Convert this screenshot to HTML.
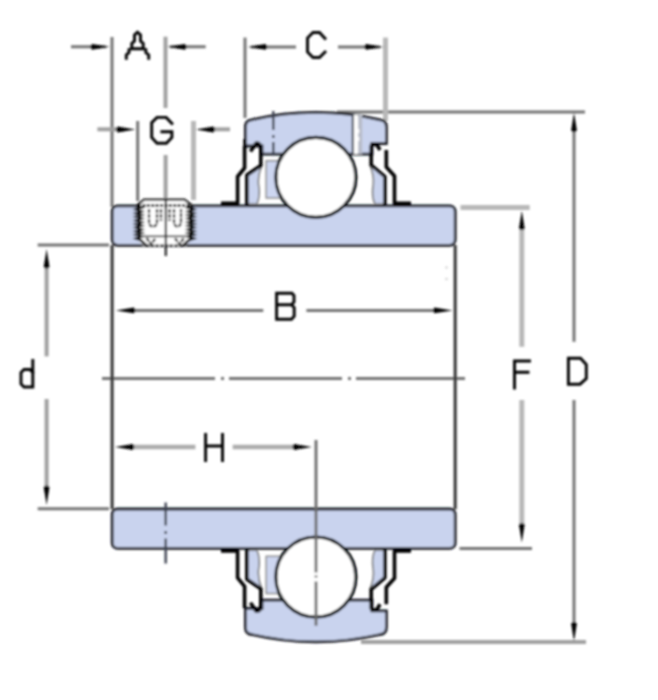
<!DOCTYPE html>
<html><head><meta charset="utf-8"><title>Bearing unit</title>
<style>
html,body{margin:0;padding:0;background:#fff;width:658px;height:700px;overflow:hidden;font-family:"Liberation Sans",sans-serif}
svg{display:block}
</style></head><body>
<svg width="658" height="700" viewBox="0 0 658 700">
<defs>
<filter id="soft" filterUnits="userSpaceOnUse" x="0" y="0" width="658" height="700"><feGaussianBlur stdDeviation="1"/></filter>
<path id="ah" d="M0,0 L-18,-2.9 Q-21,0 -18,2.9 Z"/>
<g id="half">
  <!-- cage (left only) -->
  <rect x="266.2" y="160.8" width="17" height="37.2" fill="#cdd6f0" stroke="#8a8a8a" stroke-width="1.5"/>
  <!-- outer ring -->
  <path d="M245.4,146 V127 Q245.4,120.2 251.5,119.8 A287,287 0 0 1 380.3,119.8 Q386.4,120.2 386.4,127 V143.5 H372 V154.1 H262 V146 Z" fill="#c9d3ee" stroke="#1c1f28" stroke-width="2.8"/>
  <!-- ball -->
  <circle cx="315.85" cy="177.3" r="40" fill="#fff" stroke="#05070c" stroke-width="3.2"/>
  <!-- seal lips -->
  <path d="M261.5,166 L247,176 V204 H257 Q260.5,195 258.5,185 Q257.5,176 261.5,166 Z" fill="#c9d3ee" stroke="#777" stroke-width="1.6"/>
  <path d="M370.3,166 L384.8,176 V204 H374.8 Q371.3,195 373.3,185 Q374.3,176 370.3,166 Z" fill="#c9d3ee" stroke="#777" stroke-width="1.6"/>
  <!-- flingers (black) -->
  <g fill="none" stroke="#000" stroke-width="3.6" stroke-linejoin="round">
    <path d="M221,203.4 H237.6 V176.5 L244.6,168 V146"/>
    <path d="M246.9,205 V175 L260.8,165.5 V149 Q260.8,142.5 256,143.2 L250.5,151.5"/>
    <path d="M411,203.4 H394.5 V176 L386.3,167 V150"/>
    <path d="M384.8,205 V176.5 L371.2,165 V146 Q372,143 377,145 L380,150"/>
  </g>
</g>
</defs>

<g filter="url(#soft)">
<!-- ===== dimension / construction lines ===== -->
<g fill="none" stroke="#737373" stroke-width="3">
  <line x1="71" y1="46.8" x2="106" y2="46.8"/>
  <line x1="170" y1="46.8" x2="205.7" y2="46.8"/>
  <line x1="112" y1="37" x2="112" y2="207"/>
  <line x1="245" y1="37.6" x2="245" y2="118"/>
  <line x1="251" y1="46.9" x2="296" y2="46.9"/>
  <line x1="338" y1="46.9" x2="380" y2="46.9"/>
  <line x1="137.7" y1="121" x2="137.7" y2="201"/>
  <line x1="37.7" y1="245" x2="109" y2="245"/>
  <line x1="37.7" y1="508.75" x2="109" y2="508.75"/>
  <line x1="128" y1="310.4" x2="263.3" y2="310.4"/>
  <line x1="306.4" y1="310.4" x2="440" y2="310.4"/>
  <line x1="337" y1="112" x2="585" y2="112"/>
  <line x1="574" y1="126" x2="574" y2="341.8"/>
  <line x1="574" y1="400" x2="574" y2="628"/>
  <line x1="459.5" y1="548.5" x2="532" y2="548.5"/>
</g>
<g fill="none" stroke="#a0a0a0" stroke-width="4">
  <line x1="165.5" y1="36.7" x2="165.5" y2="108"/>
  <line x1="97.4" y1="129.3" x2="124" y2="129.3"/>
  <line x1="207" y1="129.3" x2="230" y2="129.3"/>
  <line x1="46.6" y1="262" x2="46.6" y2="356.4"/>
  <line x1="46.6" y1="399" x2="46.6" y2="492"/>
  <line x1="361" y1="642" x2="586" y2="642"/>
  <line x1="165.6" y1="155" x2="165.6" y2="199"/>
</g>
<g fill="none" stroke="#b8b8b8" stroke-width="5">
  <line x1="385.5" y1="37.6" x2="385.5" y2="121"/>
  <line x1="193.5" y1="121" x2="193.5" y2="200"/>
  <line x1="460.5" y1="207.6" x2="529.7" y2="207.6"/>
  <line x1="521.8" y1="225" x2="521.8" y2="346.8"/>
  <line x1="521.8" y1="400" x2="521.8" y2="527"/>
</g>
<g fill="none" stroke="#acacac" stroke-width="4.6">
  <line x1="128" y1="447" x2="195.4" y2="447"/>
  <line x1="232.7" y1="447" x2="300" y2="447"/>
</g>
<line x1="102" y1="378.4" x2="465" y2="378.4" stroke="#737373" stroke-width="3" stroke-dasharray="113,6,3,5"/>

<!-- inner ring bars -->
<rect x="112.2" y="205.9" width="343" height="39.4" rx="5.5" fill="#c9d3ee" stroke="#1c1f28" stroke-width="2.8"/>
<rect x="112.2" y="509" width="343" height="39.4" rx="5.5" fill="#c9d3ee" stroke="#1c1f28" stroke-width="2.8"/>
<!-- inner ring faces -->
<line x1="112.1" y1="245" x2="112.1" y2="509.3" stroke="#333" stroke-width="3"/>
<line x1="455.2" y1="245" x2="455.2" y2="509.3" stroke="#333" stroke-width="3"/>

<!-- top half -->
<use href="#half"/>
<!-- bottom half mirrored -->
<use href="#half" transform="matrix(1,0,0,-1,0,754.3)"/>

<!-- top outer ring extra details -->
<line x1="244.9" y1="139" x2="244.9" y2="148" stroke="#000" stroke-width="3.2"/>
<line x1="273.3" y1="111" x2="273.3" y2="155.5" stroke="#3c4250" stroke-width="2.4" stroke-dasharray="19,5,3,4,30"/>
<rect x="353.6" y="114.6" width="4.6" height="39.4" fill="#fff"/>
<rect x="358.2" y="115" width="4" height="39" fill="#b8bcc8"/>
<rect x="357.2" y="129" width="2" height="4" fill="#fff"/>
<rect x="357.2" y="137" width="2" height="4" fill="#fff"/>
<line x1="352.8" y1="113.6" x2="352.8" y2="154" stroke="#4a4f5c" stroke-width="2.2"/>

<!-- set screw -->
<g id="screw">
  <path d="M137.5,205 L144,199.5 H184.5 L191.5,205 V240 L185,246 H144 L137.5,240 Z" fill="#fff"/>
  <path d="M137.5,205 L144,199.6 H184.5 L191.5,205" fill="none" stroke="#222" stroke-width="2.4"/>
  <line x1="138" y1="205.6" x2="191" y2="205.6" stroke="#000" stroke-width="2.6" stroke-dasharray="3,1.4"/>
  <path d="M136.3,206.0 L141.3,207.8 L136.3,209.6 L141.3,211.4 L136.3,213.2 L141.3,215.0 L136.3,216.8 L141.3,218.6 L136.3,220.4 L141.3,222.2 L136.3,224.0 L141.3,225.8 L136.3,227.6 L141.3,229.4 L136.3,231.2 L141.3,233.0 L136.3,234.8 L141.3,236.6 L136.3,238.4 L141.3,240.2" fill="none" stroke="#000" stroke-width="2.6"/>
  <path d="M193.5,206.0 L188.5,207.8 L193.5,209.6 L188.5,211.4 L193.5,213.2 L188.5,215.0 L193.5,216.8 L188.5,218.6 L193.5,220.4 L188.5,222.2 L193.5,224.0 L188.5,225.8 L193.5,227.6 L188.5,229.4 L193.5,231.2 L188.5,233.0 L193.5,234.8 L188.5,236.6 L193.5,238.4 L188.5,240.2" fill="none" stroke="#000" stroke-width="2.6"/>
  <line x1="141" y1="236.2" x2="188" y2="236.2" stroke="#666" stroke-width="2"/>
  <path d="M140.5,240 L147,246 M182.5,246 L189,240" fill="none" stroke="#000" stroke-width="2.6"/>
  <line x1="146" y1="245.6" x2="183" y2="245.6" stroke="#111" stroke-width="2.4" stroke-dasharray="3.5,1.2"/>
  <g fill="none" stroke="#222" stroke-width="2.3" stroke-dasharray="4,1">
    <path d="M149,209 V221 Q149,226.5 153,226.5 Q157,226.5 157,221 V209"/>
    <path d="M174,209 V221 Q174,226.5 177.5,226.5 Q181,226.5 181,221 V209"/>
    <path d="M161,209 V221 M169.5,209 V221"/>
    <path d="M146.5,238 L151,244 L155.5,238.5 M175,238.5 L179.5,244 L184,238"/>
  </g>
</g>
<line x1="165.8" y1="200" x2="165.8" y2="256" stroke="#111" stroke-width="2"/>
<!-- bottom screw center line -->
<line x1="165.7" y1="502.5" x2="165.7" y2="563.5" stroke="#3c4250" stroke-width="2.4" stroke-dasharray="23,5.5,3,4.5,30"/>

<line x1="316" y1="440" x2="316" y2="625.7" stroke="#6a6a6a" stroke-width="2.8" stroke-dasharray="132.6,3,2,4"/>
<circle cx="446.5" cy="267.5" r="1.3" fill="#d4d4d4"/>
<circle cx="446.5" cy="279" r="1.3" fill="#d4d4d4"/>
<!-- arrowheads -->
<g fill="#000">
  <use href="#ah" transform="translate(110,46.8)"/>
  <use href="#ah" transform="translate(167,46.8) rotate(180)"/>
  <use href="#ah" transform="translate(247.5,46.9) rotate(180)"/>
  <use href="#ah" transform="translate(384,46.9)"/>
  <use href="#ah" transform="translate(135.5,129.5)"/>
  <use href="#ah" transform="translate(195.5,129.5) rotate(180)"/>
  <use href="#ah" transform="translate(46.6,249) rotate(-90)"/>
  <use href="#ah" transform="translate(46.6,505) rotate(90)"/>
  <use href="#ah" transform="translate(115.8,310.4) rotate(180)"/>
  <use href="#ah" transform="translate(452.5,310.4)"/>
  <use href="#ah" transform="translate(114.8,447) rotate(180)"/>
  <use href="#ah" transform="translate(312,447)"/>
  <use href="#ah" transform="translate(521.8,210.5) rotate(-90)"/>
  <use href="#ah" transform="translate(521.8,542.5) rotate(90)"/>
  <use href="#ah" transform="translate(574,112.5) rotate(-90)"/>
  <use href="#ah" transform="translate(574,641.5) rotate(90)"/>
</g>

<!-- letters (pixel-style strokes) -->
<g fill="none" stroke="#000" stroke-width="2.9" stroke-linejoin="miter" stroke-linecap="square">
  <path d="M126.3,58.3 V55 L129,52.5 V49.6 L131.8,48.6 V43.5 L134.5,41 V35 L137.5,32.2 L140.5,35 V41 L143.2,43.5 V48.6 L145.8,49.6 V52.5 L148.7,55 V58.3 M131.8,48.7 H143.2"/>
  <path d="M325,38.5 L319.5,32.5 H313 L307.5,38 V52 L313,57.5 H319.5 L325,52"/>
  <path d="M171.9,123.4 L166.2,117.4 H157 L151.7,122.6 V137.4 L157,143.2 H166.4 L171.9,137.4 V131.7 H161.9"/>
  <path d="M276.6,319.2 V293.3 H292 L294,295.5 V302 L291.5,304.7 H276.6 M291.5,304.7 L294.2,307.5 V316.3 L291.5,319.2 H276.6"/>
  <path d="M205.6,434.5 V460.5 M222.5,434.5 V460.5 M205.6,446 H222.5"/>
  <path d="M32.8,360.5 V387 M32.8,372.5 L30,369.5 H24 L21,372.5 V384 L24,387 H32.8"/>
  <path d="M514.5,388 V361 H529.5 M514.5,372.2 H528"/>
  <path d="M568.4,358.2 H580.5 L586.3,364.5 V378.5 L580,384.2 H568.4 Z"/>
</g>
</g>
</svg>
</body></html>
